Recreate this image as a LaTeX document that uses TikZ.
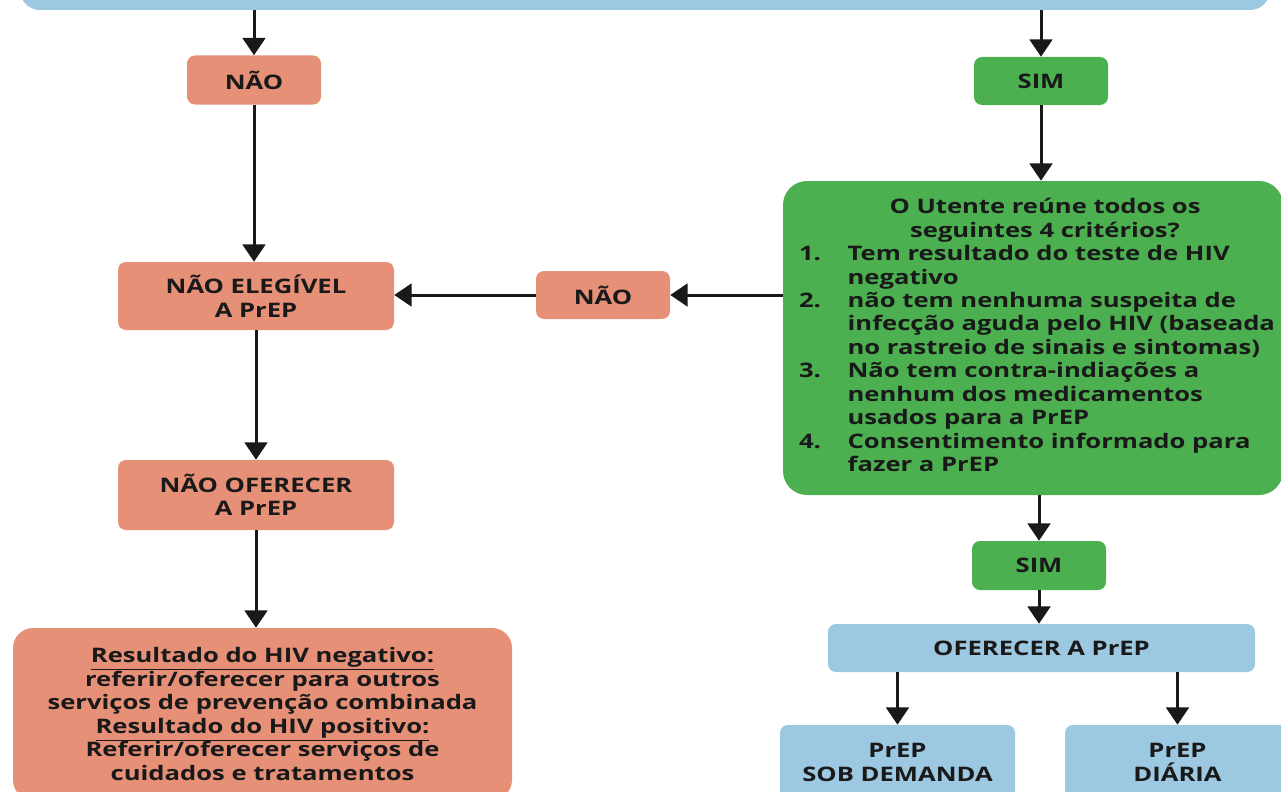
\documentclass[tikz,border=0pt]{standalone}
\usepackage{fontspec}
\setmainfont{Open Sans}[FakeStretch=1.28]
\usetikzlibrary{arrows.meta}
\definecolor{salmon}{RGB}{231,144,120}
\definecolor{grn}{RGB}{76,175,80}
\definecolor{lblue}{RGB}{157,200,225}
\definecolor{txt}{RGB}{25,25,25}
\begin{document}
\begin{tikzpicture}[x=0.75pt,y=-0.75pt,
  box/.style={rectangle, rounded corners=6pt, inner sep=0pt, align=center,
    font=\fontsize{15}{17.6}\selectfont\bfseries, text=txt},
  sbox/.style={box, fill=salmon},
  gbox/.style={box, fill=grn},
  bbox/.style={box, fill=lblue},
  arr/.style={line width=2.25pt, draw=txt, -{Triangle[width=17pt,length=13pt]}},
]
\useasboundingbox (0,0) rectangle (1281,792);
\begin{scope}
\clip (0,0) rectangle (1281,792);
\node[bbox, rounded corners=15pt, minimum width=937.5pt, minimum height=75pt] (top) at (645,-40) {};
\node[sbox, minimum width=100.5pt, minimum height=36.75pt] (non1) at (254,80) {NÃO};
\node[gbox, minimum width=100.5pt, minimum height=36pt] (sim1) at (1041,81) {SIM};
\node[gbox, rounded corners=18pt, minimum width=375pt, minimum height=235.5pt] (crit) at (1033,338) {%
\hspace*{6pt}\begin{tabular}{@{}l@{\hspace{20pt}}l@{}}
\multicolumn{2}{c}{\hspace*{12pt}O Utente reúne todos os}\\
\multicolumn{2}{c}{\hspace*{12pt}seguintes 4 critérios?}\\
1. & Tem resultado do teste de HIV\\
 & negativo\\
2. & não tem nenhuma suspeita de\\
 & infecção aguda pelo HIV (baseada\\
 & no rastreio de sinais e sintomas)\\
3. & Não tem contra-indiações a\\
 & nenhum dos medicamentos\\
 & usados para a PrEP\\
4. & Consentimento informado para\\
 & fazer a PrEP
\end{tabular}};
\node[sbox, minimum width=207pt, minimum height=51pt] (eleg) at (256,296) {NÃO ELEGÍVEL\\A PrEP};
\node[sbox, minimum width=100.5pt, minimum height=36pt] (non2) at (603,295) {NÃO};
\node[sbox, minimum width=207pt, minimum height=52.5pt] (ofer) at (256,495) {NÃO OFERECER\\A PrEP};
\node[sbox, rounded corners=15pt, minimum width=374.25pt, minimum height=129pt] (res) at (262.5,714) {%
\underline{Resultado do HIV negativo:}\\
referir/oferecer para outros\\
serviços de prevenção combinada\\
\underline{Resultado do HIV positivo:}\\
Referir/oferecer serviços de\\
cuidados e tratamentos};
\node[gbox, minimum width=100.5pt, minimum height=36.75pt] (sim2) at (1039,565.5) {SIM};
\node[bbox, minimum width=320.25pt, minimum height=36pt] (oferp) at (1041.5,648) {OFERECER A PrEP};
\node[bbox, minimum width=176.25pt, minimum height=56.25pt] (sob) at (897.5,762.5) {PrEP\\SOB DEMANDA};
\node[bbox, minimum width=168.75pt, minimum height=56.25pt] (dia) at (1177.5,762.5) {PrEP\\DIÁRIA};

\draw[arr] (top.south -| non1) -- (non1.north);
\draw[arr] (top.south -| sim1) -- (sim1.north);
\draw[arr] (sim1.south) -- (crit.north -| sim1);
\draw[arr] (non1.south) -- (non1.south |- eleg.north);
\draw[arr] (crit.west |- non2) -- (non2.east);
\draw[arr] (non2.west) -- (non2.west -| eleg.east);
\draw[arr] (eleg.south) -- (ofer.north);
\draw[arr] (ofer.south) -- (res.north -| ofer);
\draw[arr] (crit.south -| sim2) -- (sim2.north);
\draw[arr] (sim2.south) -- (oferp.north -| sim2);
\draw[arr] (oferp.south -| sob) -- (sob.north);
\draw[arr] (oferp.south -| dia) -- (dia.north);
\end{scope}
\end{tikzpicture}
\end{document}
